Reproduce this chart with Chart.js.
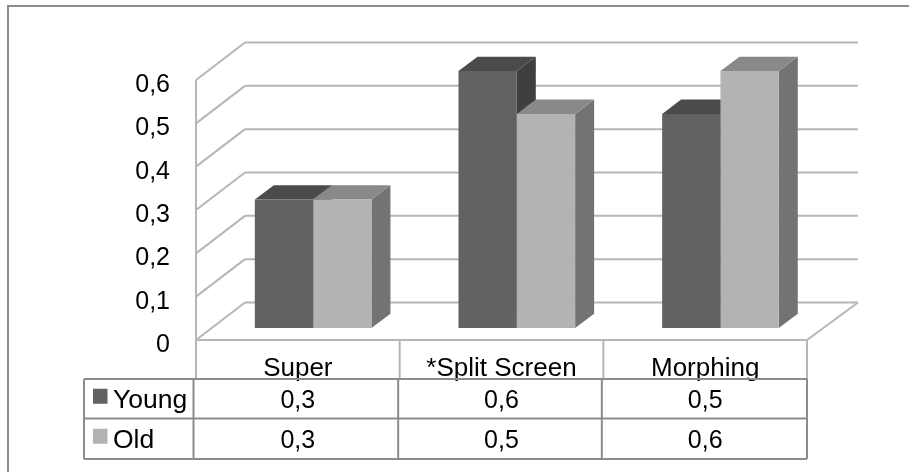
<!DOCTYPE html>
<html>
<head>
<meta charset="utf-8">
<title>Young vs Old</title>
<script src="https://cdn.jsdelivr.net/npm/chart.js@4"></script>
<style>
    html, body { margin: 0; padding: 0; background: #fff; }
    #wrap { position: relative; width: 909px; height: 472px; }
    #barChart { filter: blur(0.4px); }
</style>
</head>
<body>
<div id="wrap"><canvas id="barChart" width="909" height="472"></canvas></div>
<script>
const categories = ["Super", "*Split Screen", "Morphing"];
const young = [0.3, 0.6, 0.5];
const old = [0.3, 0.5, 0.6];
const yTicks = [0, 0.1, 0.2, 0.3, 0.4, 0.5, 0.6];

const FONT = '"Liberation Sans", Arial, sans-serif';
const comma = v => String(v).replace('.', ',');

// wall depth and how far the bars sit from the front of the floor
const wallDepth = { left: 49, right: 51, y: -37.5 };
const barShift = { x: 15.3, y: -12 };
const barDepth = { x: 19, y: -14.5 };
const barPerspective = 0.988;

const seriesStyle = [
    { name: "Young", front: '#626262', top: '#4a4c4a', side: '#3f3f3f' },
    { name: "Old", front: '#b3b3b3', top: '#898989', side: '#737373' }
];

function line(ctx, x1, y1, x2, y2) {
    ctx.beginPath();
    ctx.moveTo(x1, y1);
    ctx.lineTo(x2, y2);
    ctx.stroke();
}

function face(ctx, pts, color) {
    ctx.fillStyle = color;
    ctx.beginPath();
    pts.forEach((p, i) => i ? ctx.lineTo(p[0], p[1]) : ctx.moveTo(p[0], p[1]));
    ctx.closePath();
    ctx.fill();
}

function moveToBarPlane(ctx, base) {
    ctx.translate(barShift.x, barShift.y + base * (1 - barPerspective));
    ctx.scale(1, barPerspective);
}

// Back wall, left wall and floor
const wallsPlugin = {
    id: 'walls',
    beforeDraw(chart) {
        const { ctx, chartArea: a, scales: { y } } = chart;
        ctx.save();
        ctx.strokeStyle = '#b6b6b6';
        ctx.lineWidth = 2;
        yTicks.forEach(t => {
            const py = y.getPixelForValue(t);
            line(ctx, a.left, py, a.left + wallDepth.left, py + wallDepth.y);
            line(ctx, a.left + wallDepth.left, py + wallDepth.y, a.right + wallDepth.right, py + wallDepth.y);
        });
        line(ctx, a.left, a.top, a.left, a.bottom);
        line(ctx, a.right, a.bottom, a.right + wallDepth.right, a.bottom + wallDepth.y);
        ctx.restore();
    }
};

// Top and side of each bar go under the front faces that Chart.js draws
const barsPlugin = {
    id: 'bars3d',
    beforeDatasetsDraw(chart) {
        const { ctx, chartArea: a } = chart;
        ctx.save();
        moveToBarPlane(ctx, a.bottom);
        seriesStyle.forEach((style, d) => {
            chart.getDatasetMeta(d).data.forEach(bar => {
                const l = bar.x - bar.width / 2, r = bar.x + bar.width / 2;
                face(ctx, [[r, bar.y], [r + barDepth.x, bar.y + barDepth.y],
                    [r + barDepth.x, bar.base + barDepth.y], [r, bar.base]], style.side);
                face(ctx, [[l, bar.y], [l + barDepth.x, bar.y + barDepth.y],
                    [r + barDepth.x, bar.y + barDepth.y], [r, bar.y]], style.top);
            });
        });
        ctx.restore();
        ctx.save();
        moveToBarPlane(ctx, a.bottom);
    },
    afterDatasetsDraw(chart) {
        chart.ctx.restore();
    }
};

// Data table under the axis, plus the frame round the chart
const tablePlugin = {
    id: 'dataTable',
    afterDraw(chart) {
        const { ctx, chartArea: a } = chart;
        const colW = (a.right - a.left) / categories.length;
        const rowY = [379, 418.5, 459];
        const headLeft = 84, headRight = 193.5;
        const rows = [young, old];

        ctx.save();
        ctx.strokeStyle = '#b6b6b6';
        ctx.lineWidth = 2;
        line(ctx, a.left, a.bottom, a.right, a.bottom);
        categories.forEach((c, i) => {
            line(ctx, a.left + colW * i, a.bottom, a.left + colW * i, rowY[0]);
        });
        line(ctx, a.right, a.bottom, a.right, rowY[0]);

        // frame: only the top and left edges show
        ctx.strokeStyle = '#8c8c8c';
        line(ctx, 8, 6, 909, 6);
        line(ctx, 8, 5, 8, 472);

        line(ctx, a.right, rowY[0], a.right, rowY[2]);
        rowY.forEach(y => line(ctx, headLeft, y, a.right, y));
        line(ctx, headLeft, rowY[0], headLeft, rowY[2]);
        line(ctx, headRight, rowY[0], headRight, rowY[2]);
        for (let i = 1; i < categories.length; i++) {
            line(ctx, a.left + colW * i - 1.5, rowY[0], a.left + colW * i - 1.5, rowY[2]);
        }

        ctx.fillStyle = '#000';
        ctx.textBaseline = 'middle';
        rows.forEach((vals, r) => {
            const cy = (rowY[r] + rowY[r + 1]) / 2;
            ctx.fillStyle = seriesStyle[r].front;
            ctx.fillRect(93, cy - 10, 14.5, 15);
            ctx.fillStyle = '#000';
            ctx.textAlign = 'left';
            ctx.font = '26.5px ' + FONT;
            ctx.fillText(seriesStyle[r].name, 113, cy + 2);
            ctx.font = '25px ' + FONT;
            ctx.textAlign = 'center';
            vals.forEach((v, i) => ctx.fillText(comma(v), a.left + colW * (i + 0.5), cy + 2));
        });
        ctx.restore();
    }
};

document.addEventListener('DOMContentLoaded', () => {
    new Chart(document.getElementById('barChart').getContext('2d'), {
        type: 'bar',
        data: {
            labels: categories,
            datasets: [
                { label: "Young", data: young, backgroundColor: seriesStyle[0].front },
                { label: "Old", data: old, backgroundColor: seriesStyle[1].front }
            ]
        },
        options: {
            responsive: false,
            animation: false,
            categoryPercentage: 0.5727,
            barPercentage: 1,
            layout: { padding: { top: 80, right: 102, left: 0, bottom: 0 } },
            plugins: { legend: { display: false }, tooltip: { enabled: false } },
            scales: {
                x: {
                    grid: { display: false },
                    border: { display: false },
                    afterFit: s => { s.height = 132; },
                    ticks: { color: '#000', font: { family: FONT, size: 26 }, padding: 5, maxRotation: 0, autoSkip: false }
                },
                y: {
                    min: 0,
                    max: 0.6,
                    grid: { display: false },
                    border: { display: false },
                    afterFit: s => { s.width = 196; },
                    afterBuildTicks: s => { s.ticks = yTicks.map(v => ({ value: v })); },
                    // the empty first line pushes each label down half a lineHeight
                    ticks: {
                        color: '#000',
                        font: { family: FONT, size: 25, lineHeight: '10px' },
                        padding: 18,
                        callback: v => ['', comma(v)]
                    }
                }
            }
        },
        plugins: [wallsPlugin, barsPlugin, tablePlugin]
    });
});
</script>
</body>
</html>
